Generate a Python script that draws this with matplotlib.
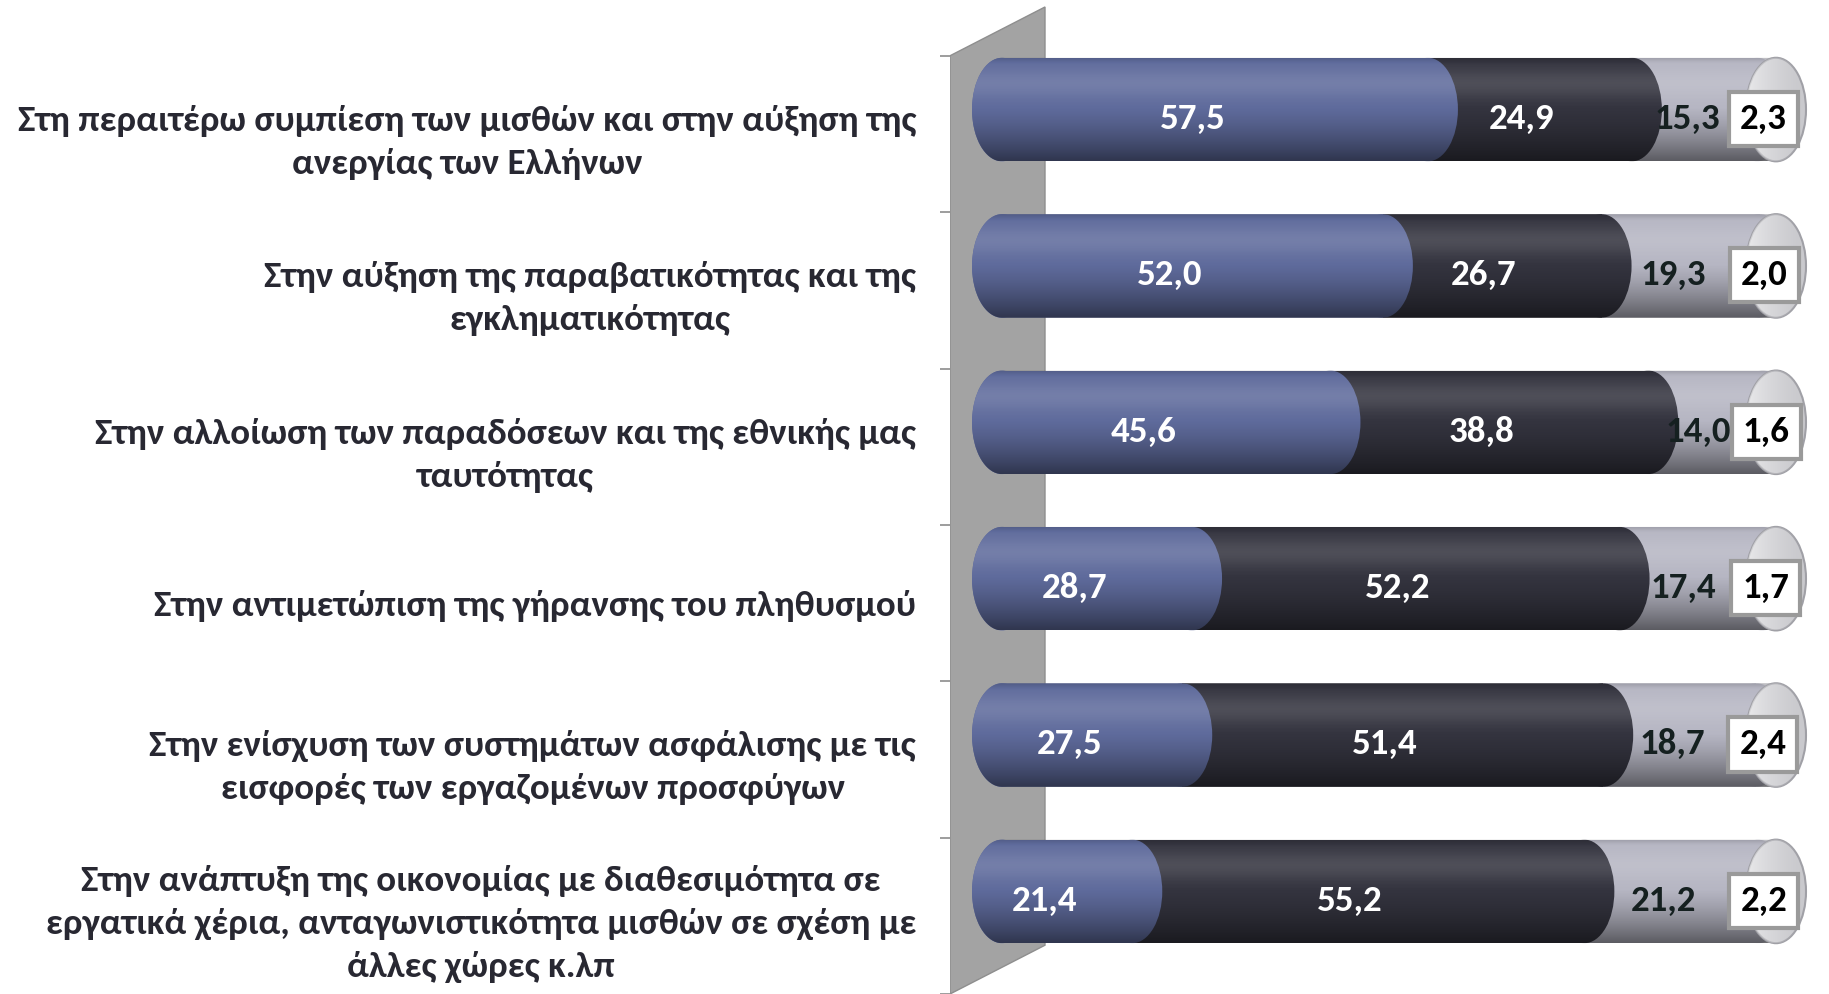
import numpy as np
import matplotlib
matplotlib.use("Agg")
import matplotlib.pyplot as plt
from matplotlib.patches import Ellipse, Polygon

# Carlito = clone metrique de Calibri
plt.rcParams['font.family'] = ['Carlito', 'DejaVu Sans']
plt.rcParams['font.weight'] = 'bold'

categories = [
    "Στη περαιτέρω συμπίεση των μισθών και στην αύξηση της\nανεργίας των Ελλήνων",
    "Στην αύξηση της παραβατικότητας και της\nεγκληματικότητας",
    "Στην αλλοίωση των παραδόσεων και της εθνικής μας\nταυτότητας",
    "Στην αντιμετώπιση της γήρανσης του πληθυσμού",
    "Στην ενίσχυση των συστημάτων ασφάλισης με τις\nεισφορές των εργαζομένων προσφύγων",
    "Στην ανάπτυξη της οικονομίας με διαθεσιμότητα σε\nεργατικά χέρια, ανταγωνιστικότητα μισθών σε σχέση με\nάλλες χώρες κ.λπ",
]
s1 = [57.5, 52.0, 45.6, 28.7, 27.5, 21.4]
s2 = [24.9, 26.7, 38.8, 52.2, 51.4, 55.2]
s3 = [15.3, 19.3, 14.0, 17.4, 18.7, 21.2]
s4 = [2.3, 2.0, 1.6, 1.7, 2.4, 2.2]
series = [s1, s2, s3, s4]

couleurs = ['#5f6b9c', '#34343f', '#b6b6c3', '#d6d6dc']
coul_texte = ['white', 'white', '#152020', 'black']
decal_lab = [0.0, -1.0, -0.9, -0.4]

W, H = 1829, 994
fig = plt.figure(figsize=(W / 100, H / 100), dpi=100)

# placement en pixels
gauche_px = 950
x0_px, x100_px = 957, 1776
haut_bande_px, bande_px = 56, 157
ppu = (x100_px - x0_px) / 100.0
xmin = (gauche_px - x0_px) / ppu
xmax = (W - x0_px) / ppu
ytop = -0.5 - haut_bande_px / bande_px
ybot = -0.5 + (H - haut_bande_px) / bande_px

ax = fig.add_axes([gauche_px / W, 0, 1 - gauche_px / W, 1])
ax.set_xlim(xmin, xmax)
ax.set_ylim(ybot, ytop)

prof_dx = 95 / ppu
prof_dy = 49 / bande_px
n = len(categories)

# mur gris
mur = Polygon([(xmin, -0.5), (xmin + prof_dx, -0.5 - prof_dy),
               (xmin + prof_dx, n - 0.5 - prof_dy), (xmin, n - 0.5)],
              closed=True, facecolor='#a3a3a3', edgecolor='#8e8e8e', lw=1, zorder=1)
ax.add_patch(mur)

yc = np.arange(n) - prof_dy / 2
h = 104 / bande_px
a = 30 / ppu
c0 = (1002 - x0_px) / ppu   # centre du bout gauche

# degrade vertical du cylindre
t = np.linspace(0, 1, 200)
hi = 0.13 * np.exp(-((t - 0.25) / 0.15) ** 2)
sh = 0.5 * np.clip((t - 0.45) / 0.55, 0, 1) ** 1.4 + 0.15 * np.clip((0.06 - t) / 0.06, 0, 1)
v = hi - sh
grad = np.zeros((len(t), 1, 4))
grad[:, 0, :3] = (v > 0)[:, None] * 1.0
grad[:, 0, 3] = np.abs(v)

tt = np.linspace(0, 1, 100)
grad_cap = np.zeros((1, len(tt), 4))
grad_cap[0, :, :3] = 1.0
grad_cap[0, :, 3] = 0.6 * (1 - tt) ** 1.5

gauches = np.zeros(n)
conteneurs = []
for j, s in enumerate(series):
    conteneurs.append(ax.barh(yc, s, left=gauches, height=h, color=couleurs[j], zorder=2))
    gauches = gauches + np.array(s)
totaux = gauches

ang_g = np.linspace(np.pi / 2, 3 * np.pi / 2, 40)
ang_d = np.linspace(-np.pi / 2, np.pi / 2, 40)
for i in range(n):
    vals = [s[i] for s in series]
    bornes = np.cumsum(vals)
    debuts = bornes - np.array(vals)
    # silhouette du cylindre
    xs = list(c0 + a * np.cos(ang_g)) + list(totaux[i] + a * np.cos(ang_d))
    ys = list(yc[i] - h / 2 * np.sin(ang_g)) + list(yc[i] - h / 2 * np.sin(ang_d))
    silh = Polygon(list(zip(xs, ys)), closed=True, facecolor='none', edgecolor='none', zorder=3)
    ax.add_patch(silh)
    for cont in conteneurs:
        cont.patches[i].set_clip_path(silh)
    ax.add_patch(Ellipse((c0, yc[i]), 2 * a, h, facecolor=couleurs[0], edgecolor='none', zorder=1.9))
    # jonctions (de droite a gauche)
    for j in range(len(series) - 2, -1, -1):
        e = Ellipse((bornes[j], yc[i]), 2 * a, h, facecolor=couleurs[j],
                    edgecolor='none', zorder=2.5 - 0.1 * j)
        ax.add_patch(e)
        e.set_clip_path(silh)
    im = ax.imshow(grad, extent=(c0 - a, totaux[i] + a, yc[i] + h / 2, yc[i] - h / 2),
                   origin='upper', aspect='auto', interpolation='bicubic', zorder=3)
    im.set_clip_path(silh)
    # couvercle
    cap = Ellipse((totaux[i], yc[i]), 2 * a, h, facecolor='#c9c9cd', edgecolor='#a0a0a6',
                  lw=1.5, zorder=4)
    ax.add_patch(cap)
    im2 = ax.imshow(grad_cap, extent=(totaux[i] - a, totaux[i] + a, yc[i] + h / 2, yc[i] - h / 2),
                    origin='upper', aspect='auto', interpolation='bicubic', zorder=4.1)
    im2.set_clip_path(cap)
    # etiquettes
    for j in range(len(series)):
        cx = debuts[j] + vals[j] / 2 + decal_lab[j]
        txt = f"{vals[j]:.1f}".replace('.', ',')
        kw = {}
        if j == 3:
            kw['bbox'] = dict(boxstyle='square,pad=0.3', facecolor='white',
                              edgecolor='#9a9a9a', lw=3)
        ax.text(cx, yc[i] + 0.06, txt, ha='center', va='center', fontsize=26.6,
                fontweight='bold', color=coul_texte[j], zorder=6, **kw)

ax.set_xticks([])
ax.set_yticks(range(n))
ax.set_yticklabels(categories, ha='right', multialignment='center', fontsize=26.6,
                   color='#282832', fontweight='bold', linespacing=1.42)
ax.tick_params(axis='y', which='major', length=0, pad=24.5)
ax.set_yticks(np.arange(-0.5, n, 1), minor=True)
ax.tick_params(axis='y', which='minor', length=7.2, width=1.2, color='#8c8c8c')
for sp in ax.spines.values():
    sp.set_visible(False)

fig.savefig('out.png', dpi=100)
